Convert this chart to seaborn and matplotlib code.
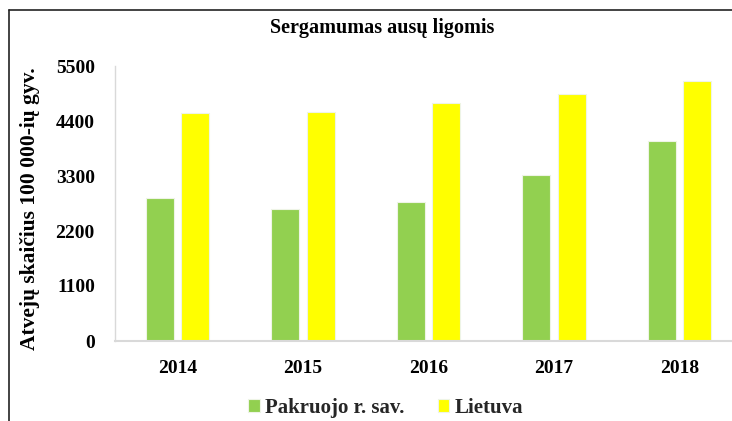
import matplotlib
matplotlib.use("Agg")
import matplotlib.pyplot as plt
import seaborn as sns
import pandas as pd
from matplotlib.lines import Line2D

years = ["2014", "2015", "2016", "2017", "2018"]
pakruojo = [2855, 2645, 2790, 3320, 4000]
lietuva = [4555, 4575, 4755, 4940, 5205]
series_names = ["Pakruojo r. sav.", "Lietuva"]
y_ticks = [0, 1100, 2200, 3300, 4400, 5500]

df = pd.DataFrame({
    "year": years * 2,
    "value": pakruojo + lietuva,
    "series": [series_names[0]] * len(years) + [series_names[1]] * len(years),
})

sns.set_theme(style="white")
plt.rcParams["font.family"] = ["Liberation Serif", "DejaVu Serif"]
plt.rcParams["font.weight"] = "bold"

fig = plt.figure(figsize=(7.32, 4.21), dpi=100)
ax = fig.add_axes([115 / 732, 1 - 341 / 421, 1 - 115 / 732, (341 - 66) / 421])

sns.barplot(data=df, x="year", y="value", hue="series",
            palette=["#92D050", "#FFFF00"], saturation=1,
            width=0.566, gap=0.21,
            edgecolor="#EEF4E6", linewidth=0.8, ax=ax, legend=True)

ax.set_ylim(0, 5500)
ax.set_yticks(y_ticks)
ax.set_xlim(-0.5, 4.42)
ax.set_xlabel("")
ax.set_ylabel("Atvejų skaičius 100 000-ių gyv.", fontsize=15.5,
              fontweight="bold", color="black")
ax.yaxis.set_label_coords(-0.121, 0.48)
ax.tick_params(axis="y", length=0, pad=14.5, labelsize=14, labelcolor="black")
ax.tick_params(axis="x", length=0, pad=14, labelsize=14, labelcolor="black")
for lab in ax.get_xticklabels() + ax.get_yticklabels():
    lab.set_fontweight("bold")

for side in ["top", "right"]:
    ax.spines[side].set_visible(False)
ax.spines["left"].set_color("#D9D9D9")
ax.spines["bottom"].set_color("#D9D9D9")
ax.spines["left"].set_linewidth(1.0)
ax.spines["bottom"].set_linewidth(1.5)

handles, labels = ax.get_legend_handles_labels()
ax.get_legend().remove()
fig.legend(handles, labels, loc="center", bbox_to_anchor=(0.527, 0.031),
           ncol=2, frameon=False, handlelength=0.55, handleheight=0.55,
           handletextpad=0.25, columnspacing=1.6,
           prop={"family": "Liberation Serif", "weight": "bold", "size": 15})

fig.text(0.522, 1 - 28 / 421, "Sergamumas ausų ligomis", ha="center", va="center",
         fontsize=14.5, fontweight="bold", color="black")

# outer frame (left and top edges)
fig.add_artist(Line2D([8.5 / 732, 8.5 / 732], [0, 1 - 10 / 421],
                      transform=fig.transFigure, color="#222222", lw=1.2))
fig.add_artist(Line2D([8.5 / 732, 1], [1 - 10 / 421, 1 - 10 / 421],
                      transform=fig.transFigure, color="#222222", lw=1.2))

fig.savefig("out.png", dpi=100)
